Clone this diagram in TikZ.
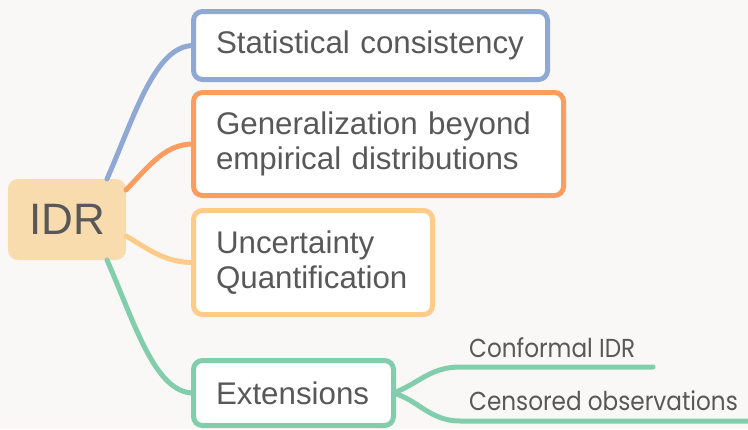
\documentclass[tikz,border=0pt]{standalone}
\usepackage{fontspec}
\setmainfont{Liberation Sans}
\newfontfamily\geofont[FakeStretch=0.89]{Poppins}
\usetikzlibrary{calc}
\definecolor{bg}{HTML}{F9F8F6}
\definecolor{ink}{HTML}{585858}
\definecolor{cblue}{HTML}{8FA8D4}
\definecolor{corange}{HTML}{FA9D5E}
\definecolor{cpeach}{HTML}{FECB89}
\definecolor{cgreen}{HTML}{82CEAC}
\definecolor{idrfill}{HTML}{F9DCAD}
\begin{document}
\begin{tikzpicture}[x=1pt,y=-1pt,
  topic/.style={draw, line width=5pt, rounded corners=9pt, fill=white,
    anchor=north west, outer sep=0pt, inner xsep=22.5pt, inner ysep=0pt,
    align=left, text=ink, font=\fontsize{31.3}{35}\selectfont},
  branch/.style={line width=5pt, line cap=round},
  leaf/.style={anchor=base west, inner sep=0pt, text=ink,
    font=\geofont\fontsize{26}{30}\selectfont}]
  \useasboundingbox (0,0) rectangle (748,429);
  \fill[bg] (0,0) rectangle (748,429);
  \clip (0,0) rectangle (748,429);

  % central topic
  \node[fill=idrfill, rounded corners=10pt, anchor=north west, outer sep=0pt,
        minimum width=118pt, minimum height=81pt, text=ink,
        font=\fontsize{44}{50}\selectfont] (idr) at (8,179) {IDR};

  % start points of the connectors on the central topic
  \coordinate (s1) at ($(idr.north east)+(-19,0)$);
  \coordinate (s2) at ($(idr.north east)+(0,11)$);
  \coordinate (s3) at ($(idr.south east)+(0,-24)$);
  \coordinate (s4) at ($(idr.south east)+(-19,0)$);

  % main topics
  \node[topic, draw=cblue, text width=309pt, minimum height=68pt] (stat) at (193.5,11.5)
    {Statistical consistency};
  \node[topic, draw=corange, text width=325pt, minimum height=103pt] (gen) at (193.5,92.5)
    {Generalization beyond\\empirical distributions};
  \node[topic, draw=cpeach, text width=194pt, minimum height=104pt] (unc) at (193.5,210.5)
    {Uncertainty\\Quantification};
  \node[topic, draw=cgreen, text width=155pt, minimum height=65pt] (ext) at (193.5,360.5)
    {Extensions};

  % curved branches from the central topic
  \draw[branch, cblue] (s1) .. controls (135,115) and (155,45.5) .. (stat.west);
  \draw[branch, corange] (s2) .. controls (150,165) and (165,144) .. (gen.west);
  \draw[branch, cpeach] (s3) .. controls (150,250) and (165,262.5) .. (unc.west);
  \draw[branch, cgreen] (s4) .. controls (135,324) and (155,393) .. (ext.west);

  % sub-topics of Extensions, each on its own underline
  \node[leaf] (conf) at (469,357) {Conformal IDR};
  \node[leaf] (cens) at (469,410) {Censored observations};
  \coordinate (c1a) at (460,367);
  \coordinate (c1b) at (653,367);
  \coordinate (c2a) at (460,421);
  \coordinate (c2b) at (760,421);
  \draw[branch, cgreen] (ext.east) .. controls (418,384) and (430,367) .. (c1a) -- (c1b);
  \draw[branch, cgreen] (ext.east) .. controls (418,400) and (430,421) .. (c2a) -- (c2b);
\end{tikzpicture}
\end{document}
